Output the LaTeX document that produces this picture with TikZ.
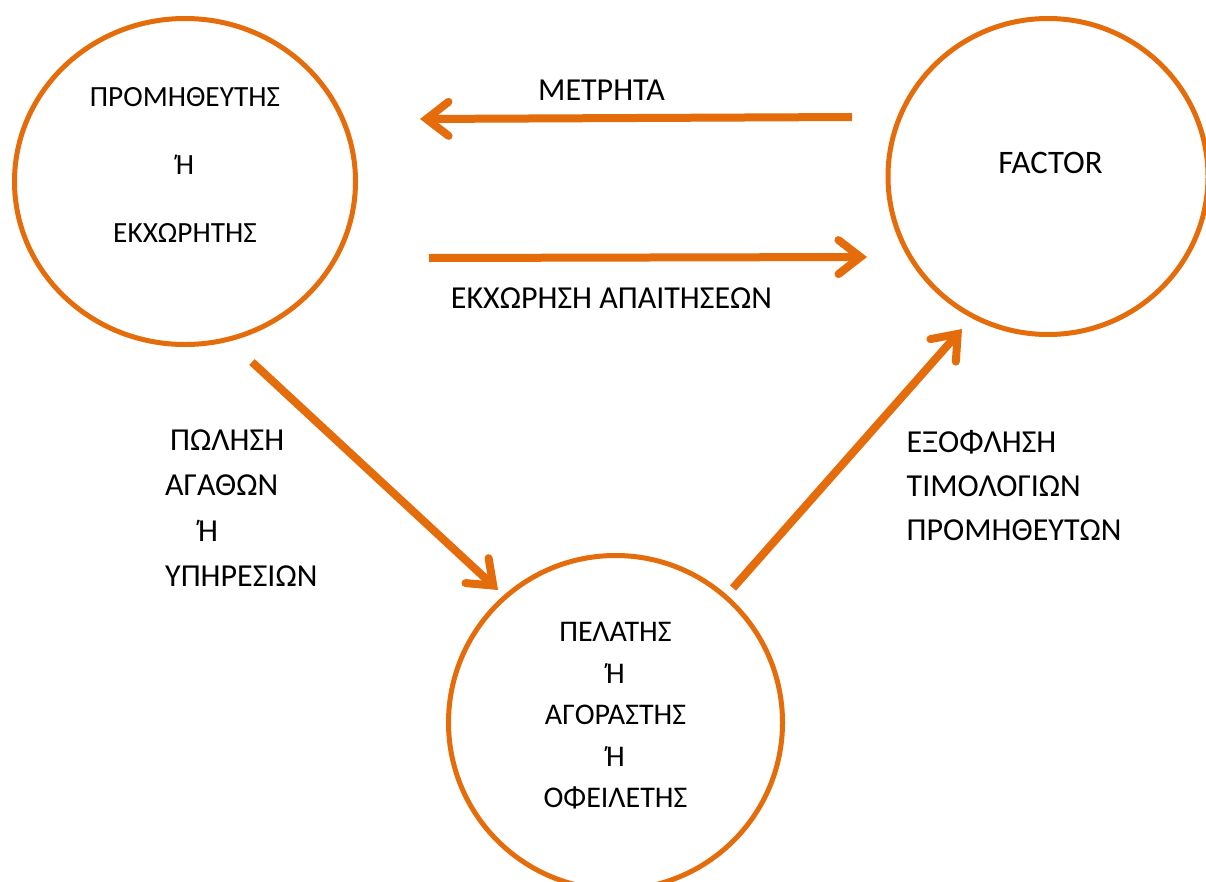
\documentclass[tikz,border=0pt]{standalone}
\usepackage{fontspec}
\setmainfont{Carlito}
\usepackage{tikz}
\definecolor{Orng}{RGB}{228,108,10}
\usetikzlibrary{arrows.meta,shapes.geometric}

\begin{document}
\begin{tikzpicture}[x=1pt,y=-1pt,
    party/.style={ellipse,draw=Orng,line width=5pt,inner sep=0pt},
    flow/.style={draw=Orng,line width=8pt,
                 -{Straight Barb[length=22pt,width=34pt,line cap=round]}},
    lbl/.style={font=\fontsize{32}{44}\selectfont,inner sep=0pt}]
    \clip (0,0) rectangle (1206,881);
    \fill[white] (0,0) rectangle (1206,881);
    % the three parties
    \node[party,minimum width=341pt,minimum height=326pt] (sup) at (185,181.5) {};
    \node[party,minimum width=320pt,minimum height=316pt] (fac) at (1048,176.5) {};
    \node[party,minimum width=334pt,minimum height=334pt] (cli) at (615.5,722.5) {};
    \node[lbl,align=center,font=\fontsize{29.3}{68}\selectfont] (supT) at (185,165)
        {ΠΡΟΜΗΘΕΥΤΗΣ\\Ή\\ΕΚΧΩΡΗΤΗΣ};
    \node[lbl,font=\fontsize{32.8}{40}\selectfont] (facT) at (1050.5,163) {FACTOR};
    \node[lbl,align=center,font=\fontsize{30}{41.5}\selectfont] (cliT) at (615.5,716)
        {ΠΕΛΑΤΗΣ\\Ή\\ΑΓΟΡΑΣΤΗΣ\\Ή\\ΟΦΕΙΛΕΤΗΣ};
    % arrow ends
    \coordinate (cashA) at (852,117);
    \coordinate (cashB) at (420,119);
    \coordinate (assA) at (429,258);
    \coordinate (assB) at (867,257);
    \coordinate (saleA) at (252,362);
    \coordinate (saleB) at (498,590);
    \coordinate (payA) at (733,588);
    \coordinate (payB) at (962,329);
    \draw[flow] (cashA) -- (cashB);
    \draw[flow] (assA) -- (assB);
    \draw[flow] (saleA) -- (saleB);
    \draw[flow] (payA) -- (payB);
    % labels of the flows
    \node[lbl] (cashT) at (601.5,90) {ΜΕΤΡΗΤΑ};
    \node[lbl] (assT) at (611.5,298) {ΕΚΧΩΡΗΣΗ ΑΠΑΙΤΗΣΕΩΝ};
    \node[lbl,align=left,anchor=west,font=\fontsize{32}{45.5}\selectfont] (saleT) at (165,508)
        {\hspace{5pt}ΠΩΛΗΣΗ\\ΑΓΑΘΩΝ\\\hspace{33pt}Ή\\ΥΠΗΡΕΣΙΩΝ};
    \node[lbl,align=left,anchor=west] (payT) at (906.5,486)
        {ΕΞΟΦΛΗΣΗ\\ΤΙΜΟΛΟΓΙΩΝ\\ΠΡΟΜΗΘΕΥΤΩΝ};
\end{tikzpicture}
\end{document}
